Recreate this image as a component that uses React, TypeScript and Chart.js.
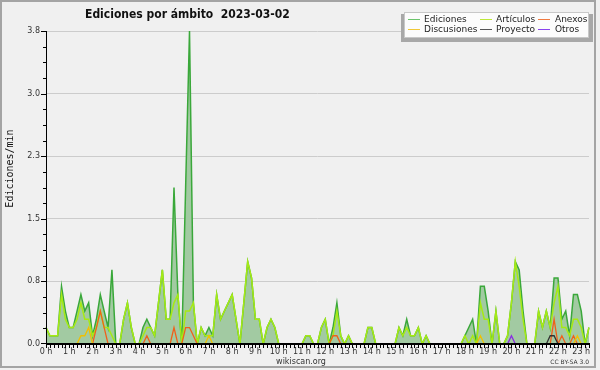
import React, { useEffect, useRef } from 'react';
import { Chart, registerables } from 'chart.js';

Chart.register(...registerables);

const chartTitle = 'Ediciones por ámbito  2023-03-02';
const yAxisTitle = 'Ediciones/min';
const footerLeft = 'wikiscan.org';
const footerRight = 'CC BY-SA 3.0';

const seriesNames = ['Ediciones', 'Artículos', 'Anexos', 'Discusiones', 'Proyecto', 'Otros'];

const hourLabels = [
  '0 h', '1 h', '2 h', '3 h', '4 h', '5 h', '6 h', '7 h', '8 h', '9 h', '10 h', '11 h',
  '12 h', '13 h', '14 h', '15 h', '16 h', '17 h', '18 h', '19 h', '20 h', '21 h', '22 h', '23 h',
];

const yTickValues = [0, 0.76, 1.52, 2.28, 3.04, 3.8];
const yMinorStep = 0.19;
const yMax = 3.8;

// 10-minute slots, one row per hour
const ediciones = [
  0.2, 0.1, 0.1, 0.1, 0.7, 0.4,
  0.2, 0.2, 0.4, 0.6, 0.4, 0.5,
  0.1, 0.3, 0.6, 0.4, 0.2, 0.9,
  0, 0, 0.3, 0.5, 0.2, 0,
  0, 0.2, 0.3, 0.2, 0.1, 0.5,
  0.9, 0.3, 0.3, 1.9, 0.6, 0,
  1.9, 3.8, 0.5, 0, 0.2, 0.1,
  0.2, 0.1, 0.6, 0.3, 0.4, 0.5,
  0.6, 0.3, 0, 0.5, 1.0, 0.8,
  0.3, 0.3, 0, 0.2, 0.3, 0.2,
  0, 0, 0, 0, 0, 0,
  0, 0.1, 0.1, 0, 0, 0.2,
  0.3, 0, 0.2, 0.5, 0.1, 0,
  0.1, 0, 0, 0, 0, 0.2,
  0.2, 0, 0, 0, 0, 0,
  0, 0.2, 0.1, 0.3, 0.1, 0.1,
  0.2, 0, 0.1, 0, 0, 0,
  0, 0, 0, 0, 0, 0,
  0.1, 0.2, 0.3, 0, 0.7, 0.7,
  0.4, 0, 0.4, 0, 0, 0.1,
  0.5, 1.0, 0.9, 0.4, 0, 0,
  0, 0.4, 0.2, 0.4, 0.2, 0.8,
  0.8, 0.3, 0.4, 0.1, 0.6, 0.6,
  0.4, 0, 0.2,
];

const articulos = [
  0.2, 0.1, 0.1, 0.1, 0.6, 0.3,
  0.2, 0.2, 0.3, 0.5, 0.3, 0.3,
  0.1, 0.2, 0.4, 0.2, 0.2, 0.1,
  0, 0, 0.3, 0.5, 0.2, 0,
  0, 0.1, 0.2, 0.2, 0.1, 0.5,
  0.9, 0.3, 0.3, 0.5, 0.6, 0,
  0.4, 0.4, 0.5, 0, 0.2, 0.1,
  0.1, 0.1, 0.6, 0.3, 0.4, 0.5,
  0.6, 0.3, 0, 0.5, 1.0, 0.8,
  0.3, 0.3, 0, 0.2, 0.3, 0.2,
  0, 0, 0, 0, 0, 0,
  0, 0.1, 0.1, 0, 0, 0.2,
  0.3, 0, 0.1, 0.4, 0.1, 0,
  0.1, 0, 0, 0, 0, 0.2,
  0.2, 0, 0, 0, 0, 0,
  0, 0.2, 0.1, 0.2, 0.1, 0.1,
  0.2, 0, 0.1, 0, 0, 0,
  0, 0, 0, 0, 0, 0,
  0.1, 0, 0.1, 0, 0.5, 0.3,
  0.3, 0, 0.4, 0, 0, 0.1,
  0.5, 1.0, 0.7, 0.3, 0, 0,
  0, 0.4, 0.2, 0.4, 0.2, 0.5,
  0.7, 0.2, 0.2, 0.1, 0.3, 0.3,
  0.2, 0, 0.2,
];

const anexos = [
  0, 0, 0, 0, 0, 0,
  0, 0, 0, 0, 0, 0,
  0, 0.2, 0.4, 0.2, 0, 0,
  0, 0, 0, 0, 0, 0,
  0, 0, 0.1, 0, 0, 0,
  0, 0, 0, 0.2, 0, 0,
  0.2, 0.2, 0.1, 0, 0, 0,
  0, 0, 0, 0, 0, 0,
  0, 0, 0, 0, 0, 0,
  0, 0, 0, 0, 0, 0,
  0, 0, 0, 0, 0, 0,
  0, 0, 0, 0, 0, 0,
  0, 0, 0.1, 0.1, 0, 0,
  0, 0, 0, 0, 0, 0,
  0, 0, 0, 0, 0, 0,
  0, 0, 0, 0, 0, 0,
  0, 0, 0, 0, 0, 0,
  0, 0, 0, 0, 0, 0,
  0, 0, 0, 0, 0, 0,
  0, 0, 0, 0, 0, 0,
  0, 0, 0, 0, 0, 0,
  0, 0, 0, 0, 0, 0.3,
  0, 0.1, 0, 0, 0.1, 0,
  0, 0, 0,
];

const discusiones = [
  0, 0, 0, 0, 0, 0,
  0, 0, 0, 0.1, 0.1, 0.2,
  0, 0, 0, 0, 0, 0,
  0, 0, 0, 0, 0, 0,
  0, 0, 0, 0, 0, 0,
  0, 0, 0, 0, 0, 0,
  0, 0, 0, 0, 0, 0,
  0.1, 0, 0, 0, 0, 0,
  0, 0, 0, 0, 0, 0,
  0, 0, 0, 0, 0, 0,
  0, 0, 0, 0, 0, 0,
  0, 0, 0, 0, 0, 0,
  0, 0, 0, 0, 0, 0,
  0, 0, 0, 0, 0, 0,
  0, 0, 0, 0, 0, 0,
  0, 0, 0, 0, 0, 0,
  0, 0, 0, 0, 0, 0,
  0, 0, 0, 0, 0, 0,
  0, 0, 0, 0, 0.1, 0,
  0, 0, 0, 0, 0, 0,
  0, 0, 0, 0, 0, 0,
  0, 0, 0, 0, 0, 0,
  0, 0, 0, 0, 0, 0.1,
  0, 0, 0,
];

const proyecto = [
  0, 0, 0, 0, 0, 0,
  0, 0, 0, 0, 0, 0,
  0, 0, 0, 0, 0, 0,
  0, 0, 0, 0, 0, 0,
  0, 0, 0, 0, 0, 0,
  0, 0, 0, 0, 0, 0,
  0, 0, 0, 0, 0, 0,
  0, 0, 0, 0, 0, 0,
  0, 0, 0, 0, 0, 0,
  0, 0, 0, 0, 0, 0,
  0, 0, 0, 0, 0, 0,
  0, 0, 0, 0, 0, 0,
  0, 0, 0, 0, 0, 0,
  0, 0, 0, 0, 0, 0,
  0, 0, 0, 0, 0, 0,
  0, 0, 0, 0, 0, 0,
  0, 0, 0, 0, 0, 0,
  0, 0, 0, 0, 0, 0,
  0, 0, 0, 0, 0, 0,
  0, 0, 0, 0, 0, 0,
  0, 0, 0, 0, 0, 0,
  0, 0, 0, 0, 0.1, 0.1,
  0, 0, 0, 0, 0, 0,
  0, 0, 0,
];

const otros = [
  0, 0, 0, 0, 0, 0,
  0, 0, 0, 0, 0, 0,
  0, 0, 0, 0, 0, 0,
  0, 0, 0, 0, 0, 0,
  0, 0, 0, 0, 0, 0,
  0, 0, 0, 0, 0, 0,
  0, 0, 0, 0, 0, 0,
  0, 0, 0, 0, 0, 0,
  0, 0, 0, 0, 0, 0,
  0, 0, 0, 0, 0, 0,
  0, 0, 0, 0, 0, 0,
  0, 0, 0, 0, 0, 0,
  0, 0, 0, 0, 0, 0,
  0, 0, 0, 0, 0, 0,
  0, 0, 0, 0, 0, 0,
  0, 0, 0, 0, 0, 0,
  0, 0, 0, 0, 0, 0,
  0, 0, 0, 0, 0, 0,
  0, 0, 0, 0, 0, 0,
  0, 0, 0, 0, 0, 0,
  0.1, 0, 0, 0, 0, 0,
  0, 0, 0, 0, 0, 0,
  0, 0, 0, 0, 0, 0,
  0, 0, 0,
];

// category labels: one per 10-minute slot
const slotLabels = ediciones.map((_, i) => `${Math.floor(i / 6)}:${(i % 6) * 10}`);

const lineColors = ['#3aa83a', '#a6ea14', '#f0601a', '#f0c000', '#333333', '#8a2be2'];
const legendColors = ['#6cc46c', '#bde83a', '#f07a40', '#f0c838', '#555555', '#8a44ee'];
const fillColor = '#a2caa2';

// hide zero runs that sit on the baseline
const sparse = (arr: number[]) =>
  arr.map((v, i) => (v > 0 || (arr[i - 1] ?? 0) > 0 || (arr[i + 1] ?? 0) > 0 ? v : null));

const decorPlugin = {
  id: 'decor',
  beforeDraw(chart: any) {
    const { ctx, width, height } = chart;
    ctx.save();
    ctx.fillStyle = '#f0f0f0';
    ctx.fillRect(0, 0, width, height);
    ctx.restore();
  },
  afterDatasetsDraw(chart: any) {
    const { ctx, chartArea, scales } = chart;
    const { left, right, top, bottom } = chartArea;
    const x = scales.x;
    const y = scales.y;
    ctx.save();
    ctx.fillStyle = '#000';
    // axes
    ctx.fillRect(left, top, 1, bottom - top + 1);
    ctx.fillRect(left, bottom - 1, right - left + 1, 2);
    // y ticks
    for (let k = 0; k * yMinorStep <= yMax + 1e-9; k++) {
      const v = k * yMinorStep;
      const py = Math.round(y.getPixelForValue(v));
      const major = k % 4 === 0;
      const len = major ? 5 : 3;
      ctx.fillRect(left - len, py - (k === 0 ? 1 : 0), len, 1);
    }
    // x ticks (every 10 minutes)
    for (let i = 0; i < slotLabels.length; i++) {
      const px = Math.round(x.getPixelForValue(i));
      ctx.fillRect(px, bottom + 1, 1, 3);
    }
    ctx.restore();
  },
  afterDraw(chart: any) {
    const { ctx } = chart;
    ctx.save();
    // outer frame
    ctx.strokeStyle = '#a4a4a4';
    ctx.lineWidth = 2;
    ctx.strokeRect(1, 1, 594, 366);

    // title
    ctx.fillStyle = '#111';
    ctx.font = 'bold 12px "DejaVu Sans Condensed", "DejaVu Sans"';
    ctx.textAlign = 'left';
    ctx.textBaseline = 'alphabetic';
    ctx.fillText(chartTitle, 85, 18);

    // y axis title
    ctx.save();
    ctx.translate(10, 168.5);
    ctx.rotate(-Math.PI / 2);
    ctx.font = '10px "DejaVu Sans Mono"';
    ctx.textAlign = 'center';
    ctx.textBaseline = 'middle';
    ctx.fillStyle = '#111';
    ctx.fillText(yAxisTitle, 0, 0);
    ctx.restore();

    // footer
    ctx.fillStyle = '#333';
    ctx.font = '8px "DejaVu Sans"';
    ctx.textAlign = 'center';
    ctx.textBaseline = 'alphabetic';
    ctx.fillText(footerLeft, 301, 364);
    ctx.font = '6px "DejaVu Sans"';
    ctx.textAlign = 'right';
    ctx.fillText(footerRight, 589, 364);

    // legend box
    ctx.fillStyle = '#a8a8a8';
    ctx.fillRect(401, 14, 192, 28);
    ctx.fillStyle = '#fcfcfc';
    ctx.fillRect(404, 12, 185, 26);
    ctx.strokeStyle = '#c8c8c8';
    ctx.lineWidth = 1;
    ctx.strokeRect(404.5, 12.5, 184, 25);

    const swX = [408, 480, 538];
    const txX = [424, 496, 555];
    const rowY = [19, 29];
    ctx.font = '9px "DejaVu Sans"';
    ctx.textAlign = 'left';
    ctx.textBaseline = 'middle';
    seriesNames.forEach((name, idx) => {
      const col = idx % 3;
      const row = Math.floor(idx / 3);
      ctx.fillStyle = legendColors[idx];
      ctx.fillRect(swX[col], rowY[row], 12, 1);
      ctx.fillStyle = '#222';
      ctx.fillText(name, txX[col], rowY[row] + 0.5);
    });
    ctx.restore();
  },
};

export default function App() {
  const canvasRef = useRef<HTMLCanvasElement | null>(null);

  useEffect(() => {
    document.body.style.margin = '0';
    const canvas = canvasRef.current;
    if (!canvas) return;
    const allSeries = [ediciones, articulos, anexos, discusiones, proyecto, otros];
    const datasets = allSeries.map((arr, idx) => ({
      label: seriesNames[idx],
      data: sparse(arr),
      borderColor: lineColors[idx],
      backgroundColor: idx === 0 ? fillColor : lineColors[idx],
      fill: idx === 0 ? 'origin' : false,
      borderWidth: idx < 2 ? 1.5 : 1.3,
      pointRadius: 0,
      pointHoverRadius: 0,
      tension: 0,
      spanGaps: false,
      order: 6 - idx,
    }));

    const chart = new Chart(canvas, {
      type: 'line',
      data: { labels: slotLabels, datasets },
      options: {
        animation: false,
        responsive: false,
        devicePixelRatio: 1,
        events: [],
        layout: { padding: { top: 31, right: 11, left: 0, bottom: 0 } },
        plugins: {
          legend: { display: false },
          title: { display: false },
          tooltip: { enabled: false },
        },
        scales: {
          x: {
            type: 'category',
            offset: false,
            grid: { display: false, drawTicks: false },
            border: { display: false },
            ticks: {
              autoSkip: false,
              maxRotation: 0,
              minRotation: 0,
              padding: 3,
              color: '#333',
              font: { family: 'DejaVu Sans', size: 8 },
              callback: (_v: any, i: number) => (i % 6 === 0 ? hourLabels[i / 6] : ''),
            },
            afterFit: (s: any) => {
              s.height = 26;
            },
          },
          y: {
            min: 0,
            max: yMax,
            afterBuildTicks: (s: any) => {
              s.ticks = yTickValues.map((v) => ({ value: v }));
            },
            grid: { color: '#cccccc', drawTicks: false },
            border: { display: false },
            ticks: {
              padding: 6,
              color: '#333',
              font: { family: 'DejaVu Sans', size: 8 },
              callback: (v: any) => Number(v).toFixed(1),
            },
            afterFit: (s: any) => {
              s.width = 46;
            },
          },
        },
      },
      plugins: [decorPlugin],
    });
    return () => chart.destroy();
  }, []);

  return (
    <div style={{ width: 600, height: 370 }}>
      <canvas ref={canvasRef} width={600} height={370} />
    </div>
  );
}
